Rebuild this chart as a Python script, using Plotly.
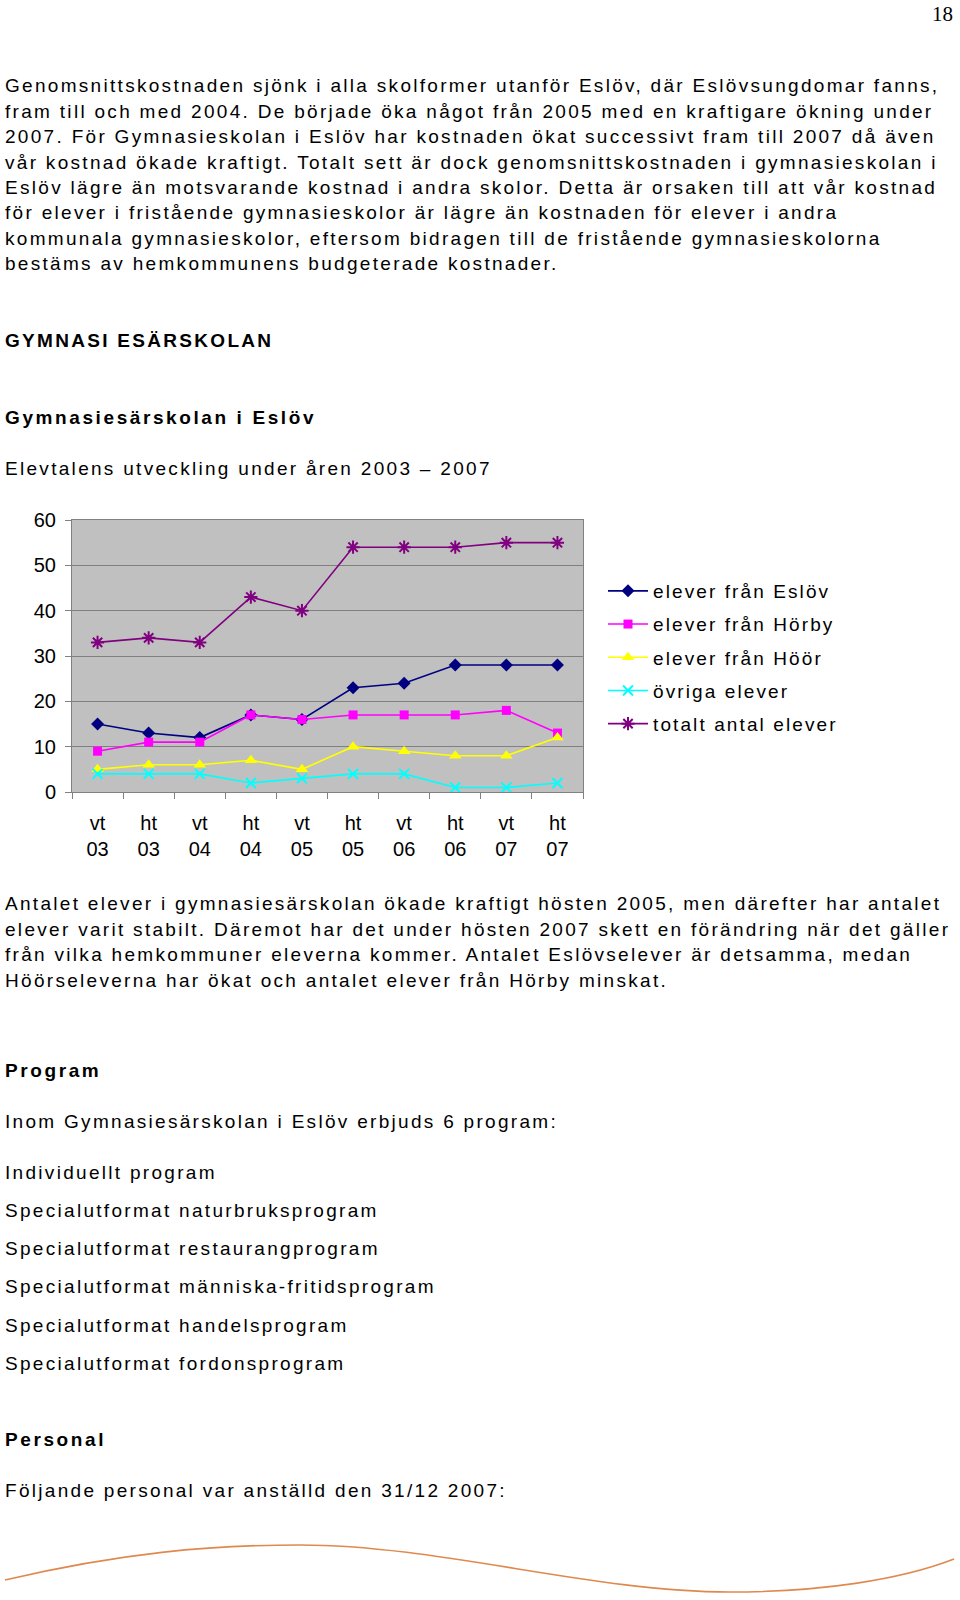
import plotly.graph_objects as go

W, H = 960, 1600

# ---------------- data ----------------
periods = ["vt 03", "ht 03", "vt 04", "ht 04", "vt 05", "ht 05", "vt 06", "ht 06", "vt 07", "ht 07"]
tick_labels = ["vt<br>03", "ht<br>03", "vt<br>04", "ht<br>04", "vt<br>05",
               "ht<br>05", "vt<br>06", "ht<br>06", "vt<br>07", "ht<br>07"]
eslov = [15, 13, 12, 17, 16, 23, 24, 28, 28, 28]
horby = [9, 11, 11, 17, 16, 17, 17, 17, 18, 13]
hoor = [5, 6, 6, 7, 5, 10, 9, 8, 8, 12]
ovriga = [4, 4, 4, 2, 3, 4, 4, 1, 1, 2]
totalt = [33, 34, 33, 43, 40, 54, 54, 54, 55, 55]
series_names = ["elever från Eslöv", "elever från Hörby", "elever från Höör",
                "övriga elever", "totalt antal elever"]
y_ticks = [0, 10, 20, 30, 40, 50, 60]

para1 = [
    "Genomsnittskostnaden sjönk i alla skolformer utanför Eslöv, där Eslövsungdomar fanns,",
    "fram till och med 2004. De började öka något från 2005 med en kraftigare ökning under",
    "2007. För Gymnasieskolan i Eslöv har kostnaden ökat successivt fram till 2007 då även",
    "vår kostnad ökade kraftigt. Totalt sett är dock genomsnittskostnaden i gymnasieskolan i",
    "Eslöv lägre än motsvarande kostnad i andra skolor. Detta är orsaken till att vår kostnad",
    "för elever i fristående gymnasieskolor är lägre än kostnaden för elever i andra",
    "kommunala gymnasieskolor, eftersom bidragen till de fristående gymnasieskolorna",
    "bestäms av hemkommunens budgeterade kostnader.",
]
para2 = [
    "Antalet elever i gymnasiesärskolan ökade kraftigt hösten 2005, men därefter har antalet",
    "elever varit stabilt. Däremot har det under hösten 2007 skett en förändring när det gäller",
    "från vilka hemkommuner eleverna kommer. Antalet Eslövselever är detsamma, medan",
    "Höörseleverna har ökat och antalet elever från Hörby minskat.",
]
programs = [
    "Individuellt program",
    "Specialutformat naturbruksprogram",
    "Specialutformat restaurangprogram",
    "Specialutformat människa-fritidsprogram",
    "Specialutformat handelsprogram",
    "Specialutformat fordonsprogram",
]

# ---------------- helpers ----------------
def px(x):
    return x / W

def py(y):
    return 1 - y / H

FONT = "Liberation Sans, Arial, sans-serif"
LS = "2.3px"
LS_BOLD = "2.6px"

def spaced(t, ls=LS):
    return f'<span style="letter-spacing:{ls}">{t}</span>'

fig = go.Figure()

styles = [
    dict(color="#000080", symbol="diamond", size=10),
    dict(color="#FF00FF", symbol="square", size=9),
    dict(color="#FFFF00", symbol="triangle-up", size=11),
    dict(color="#00FFFF", symbol="x-thin", size=10),
    dict(color="#800080", symbol="asterisk", size=11),
]
for i, (vals, name, st) in enumerate(zip([eslov, horby, hoor, ovriga, totalt], series_names, styles)):
    thin = st["symbol"] in ("x-thin", "asterisk")
    fig.add_trace(go.Scatter(
        x=periods, y=vals, name=spaced(name, "2.1px"), mode="lines+markers",
        legendgroup=f"g{i}",
        line=dict(color=st["color"], width=1.6),
        marker=dict(symbol=st["symbol"], size=st["size"], color=st["color"],
                    line=dict(color=st["color"], width=2 if thin else 0)),
        cliponaxis=False,
    ))

# ---------------- text annotations ----------------
ann = []
def text(t, x, y, size=19, bold=False, ls=None, family=FONT, xanchor="left"):
    if ls is None:
        ls = LS_BOLD if bold else LS
    s = spaced(t, ls)
    if bold:
        s = f"<b>{s}</b>"
    ann.append(dict(text=s, x=px(x), y=py(y), xref="paper", yref="paper",
                    xanchor=xanchor, yanchor="middle", showarrow=False,
                    font=dict(family=family, size=size, color="#000000")))

for i, line in enumerate(para1):
    text(line, 3, 86 + 25.4 * i)
text("GYMNASI ESÄRSKOLAN", 3, 340, bold=True, ls=LS)
text("Gymnasiesärskolan i Eslöv", 3, 417, bold=True)
text("Elevtalens utveckling under åren 2003 – 2007", 3, 468)
for i, line in enumerate(para2):
    text(line, 3, 904 + 25.4 * i)
text("Program", 3, 1070, bold=True)
text("Inom Gymnasiesärskolan i Eslöv erbjuds 6 program:", 3, 1121)
for i, line in enumerate(programs):
    text(line, 3, 1172 + 38.3 * i)
text("Personal", 3, 1439, bold=True)
text("Följande personal var anställd den 31/12 2007:", 3, 1490)
text("18", 955, 14, size=21, ls="0px", family="Liberation Serif, Times New Roman, serif", xanchor="right")

# decorative orange wave at the bottom of the page
def P(x, y):
    return f"{px(x):.4f},{py(y):.4f}"

wave = (f"M {P(5,1580)} C {P(120,1553)} {P(210,1545)} {P(300,1545)} "
        f"C {P(440,1545)} {P(590,1592)} {P(730,1592)} "
        f"C {P(820,1592)} {P(900,1580)} {P(954,1559)}")

fig.update_layout(
    width=W, height=H,
    margin=dict(l=0, r=0, t=0, b=0, pad=0, autoexpand=False),
    paper_bgcolor="#FFFFFF",
    plot_bgcolor="#C0C0C0",
    font=dict(family=FONT, size=20, color="#000000"),
    annotations=ann,
    shapes=[dict(type="path", path=wave, xref="paper", yref="paper",
                 line=dict(color="#E0894F", width=1.6))],
    showlegend=True,
    legend=dict(x=px(603), y=py(572), xanchor="left", yanchor="top",
                font=dict(family=FONT, size=19, color="#000000"),
                traceorder="grouped", tracegroupgap=5.5,
                bgcolor="rgba(0,0,0,0)", itemwidth=40),
    xaxis=dict(
        domain=[px(72), px(583)],
        type="category", automargin=False,
        tickmode="array", tickvals=periods, ticktext=tick_labels,
        range=[-0.5, 9.5],
        showgrid=False, showline=True, linecolor="#808080", linewidth=1,
        mirror=True, ticks="outside", tickson="boundaries", ticklen=6,
        tickcolor="#808080", ticklabelstandoff=13,
        tickfont=dict(size=20),
        zeroline=False,
    ),
    yaxis=dict(
        domain=[py(792), py(520)], automargin=False,
        range=[0, 60], tickmode="array", tickvals=y_ticks,
        showgrid=True, gridcolor="#808080", gridwidth=1,
        showline=True, linecolor="#808080", linewidth=1, mirror=True,
        ticks="outside", ticklen=6, tickcolor="#808080",
        ticklabelstandoff=5, tickfont=dict(size=20),
        zeroline=False,
    ),
)

fig.write_html(
    "out.html",
    config={"displayModeBar": False},
    post_script="document.body.style.margin='0';document.body.style.overflow='hidden';",
)
